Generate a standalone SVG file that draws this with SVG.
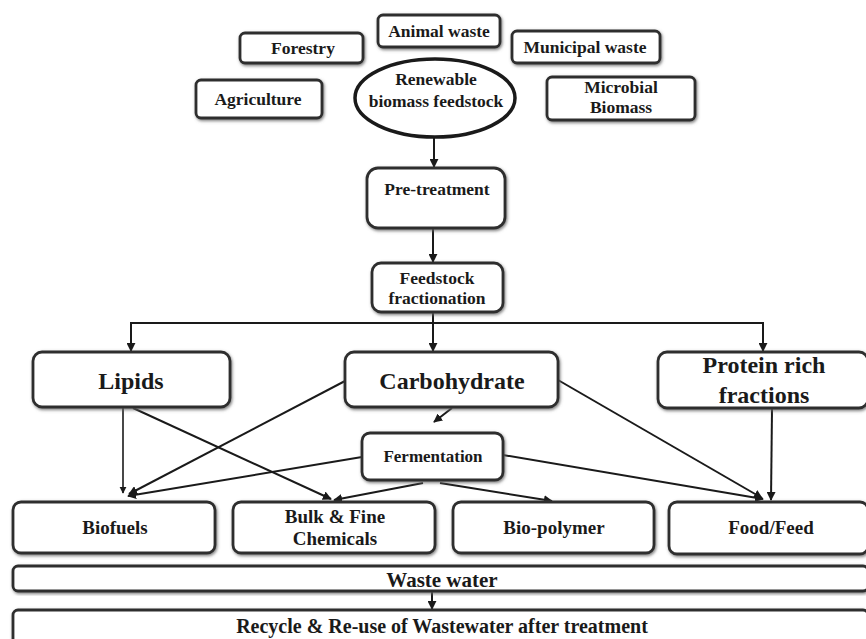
<svg xmlns="http://www.w3.org/2000/svg" width="866" height="639" viewBox="0 0 866 639">
<defs>
<style>
.bx{fill:#fff;stroke:#2e2e2e;stroke-width:2.8;filter:url(#sh)}
.t{font-family:"Liberation Serif","Times New Roman",serif;font-weight:bold;fill:#1a1a1a;text-anchor:middle}
.s{font-size:17.5px}
.m{font-size:19px}
.l{font-size:24px}
.c line{stroke:#1a1a1a;stroke-width:2;fill:none}
.c .a{marker-end:url(#ar)}
.c .thin{stroke-width:1.6}
</style>
<filter id="sh" x="-10%" y="-20%" width="120%" height="140%">
<feDropShadow dx="1" dy="1.5" stdDeviation="1.6" flood-color="#666" flood-opacity="0.85"/>
</filter>
<marker id="ar" viewBox="0 0 10 10" refX="9" refY="5" markerWidth="4.5" markerHeight="4.5" orient="auto" markerUnits="strokeWidth">
<path d="M0,0 L10,5 L0,10 z" fill="#1a1a1a"/>
</marker>
</defs>
<rect width="866" height="639" fill="#fff"/>

<g class="c" id="connectors">
<line class="a" x1="434" y1="137" x2="434" y2="167"/>
<line class="a" x1="433" y1="229" x2="433" y2="262"/>
<line x1="433" y1="312" x2="433" y2="323"/>
<line x1="130" y1="323" x2="764" y2="323"/>
<line class="a" x1="131" y1="322" x2="131" y2="351"/>
<line class="a" x1="433" y1="322" x2="433" y2="351"/>
<line class="a" x1="763" y1="322" x2="763" y2="351"/>
<line class="a thin" x1="123" y1="408" x2="123" y2="493"/>
<line class="a" x1="133" y1="408" x2="331" y2="499"/>
<line class="a" x1="345" y1="381" x2="129" y2="494"/>
<line class="a" x1="558" y1="380" x2="762" y2="498"/>
<line class="a" x1="772" y1="409" x2="771" y2="500"/>
<line class="a" x1="452" y1="408" x2="434" y2="422"/>
<line class="a" x1="362" y1="457" x2="128" y2="496"/>
<line class="a" x1="503" y1="455" x2="763" y2="499"/>
<line class="a" x1="423" y1="483" x2="334" y2="500"/>
<line class="a" x1="440" y1="483" x2="552" y2="501"/>
<line class="a" x1="432" y1="591" x2="432" y2="609"/>
</g>

<g id="forestry"><rect class="bx" x="240" y="33" width="123" height="30" rx="5"/><text class="t s" x="303" y="54">Forestry</text></g>
<g id="animal-waste"><rect class="bx" x="378" y="15" width="122" height="32" rx="5"/><text class="t s" x="439" y="37">Animal waste</text></g>
<g id="municipal-waste"><rect class="bx" x="512" y="31" width="148" height="32" rx="5"/><text class="t s" x="585" y="53">Municipal waste</text></g>
<g id="agriculture"><rect class="bx" x="196" y="80" width="126" height="38" rx="5"/><text class="t s" x="258" y="105">Agriculture</text></g>
<g id="microbial-biomass"><rect class="bx" x="547" y="77" width="148" height="43" rx="5"/><text class="t s" x="621" y="93">Microbial</text><text class="t s" x="621" y="113">Biomass</text></g>
<g id="renewable"><ellipse cx="435" cy="98" rx="80" ry="39" fill="#fff" stroke="#1a1a1a" stroke-width="3.5"/><text class="t s" x="436" y="85">Renewable</text><text class="t s" x="436" y="107">biomass feedstock</text></g>

<g id="pre-treatment"><rect class="bx" x="367" y="168" width="138" height="60" rx="11"/><text class="t s" x="437" y="195">Pre-treatment</text></g>
<g id="feedstock-fractionation"><rect class="bx" x="372" y="263" width="131" height="49" rx="9"/><text class="t s" x="437" y="284">Feedstock</text><text class="t s" x="437" y="304">fractionation</text></g>

<g id="lipids"><rect class="bx" x="33" y="352" width="197" height="55" rx="9"/><text class="t l" x="131" y="389">Lipids</text></g>
<g id="carbohydrate"><rect class="bx" x="345" y="352" width="213" height="55" rx="9"/><text class="t l" x="452" y="389">Carbohydrate</text></g>
<g id="protein"><rect class="bx" x="658" y="352" width="210" height="56" rx="9"/><text class="t l" x="764" y="373">Protein rich</text><text class="t l" x="764" y="403">fractions</text></g>

<g id="fermentation"><rect class="bx" x="362" y="433" width="141" height="47" rx="8"/><text class="t" style="font-size:17px" x="433" y="462">Fermentation</text></g>

<g id="biofuels"><rect class="bx" x="13" y="502" width="202" height="51" rx="8"/><text class="t m" x="115" y="534">Biofuels</text></g>
<g id="bulk-fine"><rect class="bx" x="233" y="502" width="202" height="51" rx="8"/><text class="t m" x="335" y="523">Bulk &amp; Fine</text><text class="t m" x="335" y="545">Chemicals</text></g>
<g id="bio-polymer"><rect class="bx" x="453" y="502" width="201" height="51" rx="8"/><text class="t m" x="554" y="534">Bio-polymer</text></g>
<g id="food-feed"><rect class="bx" x="669" y="502" width="199" height="52" rx="8"/><text class="t m" x="771" y="534">Food/Feed</text></g>

<g id="waste-water"><rect class="bx" x="13" y="566" width="855" height="25" rx="5"/><text class="t" style="font-size:21px" x="442" y="587">Waste water</text></g>
<g id="recycle"><rect class="bx" x="13" y="610" width="855" height="40" rx="5"/><text class="t" style="font-size:20px" x="442" y="633">Recycle &amp; Re-use of Wastewater after treatment</text></g>
</svg>
